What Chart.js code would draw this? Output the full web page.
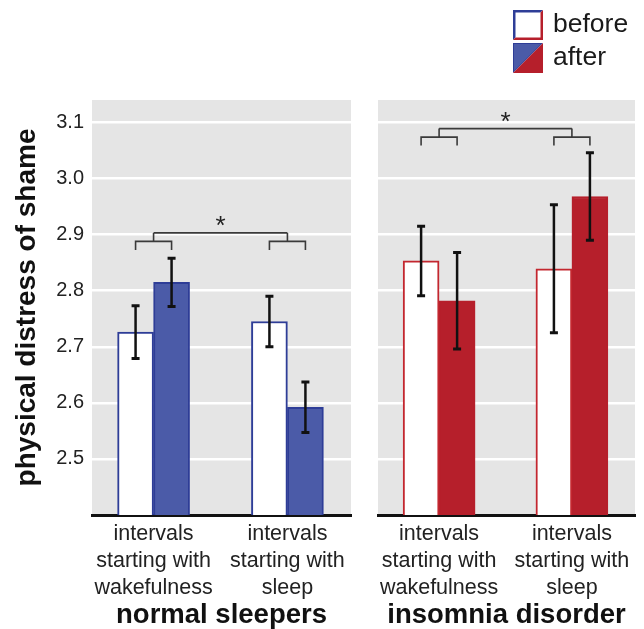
<!DOCTYPE html>
<html><head><meta charset="utf-8">
<script src="https://cdn.jsdelivr.net/npm/chart.js@4.4.0/dist/chart.umd.min.js"></script>
<style>
html,body{margin:0;padding:0;background:#fff;width:644px;height:629px;overflow:hidden;font-family:"Liberation Sans",Arial,sans-serif;}
#c1{position:absolute;left:0;top:0;}
#c2{position:absolute;left:360px;top:0;}
#legend{position:absolute;left:513px;top:8.5px;}
.row{display:flex;align-items:center;height:33px;}
.row canvas{width:30px;height:30px;display:block;}
.row span{font-size:26.5px;margin-left:10px;color:#1a1a1a;line-height:30px;position:relative;top:-2px;}
</style></head>
<body>
<canvas id="c1" width="360" height="629"></canvas>
<canvas id="c2" width="284" height="629"></canvas>
<div id="legend">
  <div class="row"><canvas id="sw1" width="30" height="30"></canvas><span>before</span></div>
  <div class="row"><canvas id="sw2" width="30" height="30"></canvas><span>after</span></div>
</div>
<script>
// ---- data ----
const categories = [["intervals", "starting with", "wakefulness"], ["intervals", "starting with", "sleep"]];
const groupNames = ["normal sleepers", "insomnia disorder"];
const seriesNames = ["before", "after"];
const yTicks = [2.5, 2.6, 2.7, 2.8, 2.9, 3.0, 3.1];
const yMin = 2.4, yMax = 3.14;

const normalBefore = [2.726, 2.745];
const normalAfter = [2.815, 2.592];
const normalBeforeErr = [0.047, 0.045];
const normalAfterErr = [0.043, 0.045];

const insomniaBefore = [2.853, 2.839];
const insomniaAfter = [2.782, 2.968];
const insomniaBeforeErr = [0.062, 0.114];
const insomniaAfterErr = [0.086, 0.078];

const bracketLevels = [2.903, 3.089];   // significance bracket height (data units)
const sigMarks = ["*", "*"];

// ---- style ----
const FONT = '"Liberation Sans", Arial, Helvetica, sans-serif';
const BLUE = '#4b5ba8', BLUE_DARK = '#2e3d97';
const RED = '#b61f2b', RED_LINE = '#c3272f';

const bgPlugin = {
  id: 'panelBg',
  beforeDraw(chart) {
    const {ctx, chartArea: a} = chart;
    ctx.save();
    ctx.fillStyle = '#e5e5e5';
    ctx.fillRect(a.left, a.top, a.right - a.left, a.bottom - a.top);
    ctx.restore();
  }
};

const errPlugin = {
  id: 'errBars',
  afterDatasetsDraw(chart) {
    const {ctx} = chart;
    const ys = chart.scales.y;
    ctx.save();
    ctx.strokeStyle = '#111';
    chart.data.datasets.forEach((ds, di) => {
      const meta = chart.getDatasetMeta(di);
      meta.data.forEach((el, i) => {
        const v = ds.data[i].y, e = ds.errors[i];
        const yt = ys.getPixelForValue(v + e), yb = ys.getPixelForValue(v - e);
        ctx.lineWidth = 2.5;
        ctx.beginPath();
        ctx.moveTo(el.x, yt); ctx.lineTo(el.x, yb);
        ctx.stroke();
        ctx.lineWidth = 3;
        ctx.beginPath();
        ctx.moveTo(el.x - 4, yt); ctx.lineTo(el.x + 4, yt);
        ctx.moveTo(el.x - 4, yb); ctx.lineTo(el.x + 4, yb);
        ctx.stroke();
      });
    });
    ctx.restore();
  }
};

const bracketPlugin = {
  id: 'brackets',
  afterDatasetsDraw(chart, args, opts) {
    const {ctx} = chart;
    const ys = chart.scales.y;
    const m0 = chart.getDatasetMeta(0).data, m1 = chart.getDatasetMeta(1).data;
    const yTop = ys.getPixelForValue(opts.level);
    const ySub = yTop + 8.5, yEnd = ySub + 8.5;
    const centers = [];
    ctx.save();
    ctx.strokeStyle = '#3a3a3a';
    ctx.lineWidth = 1.6;
    for (let i = 0; i < m0.length; i++) {
      const a = m0[i].x, b = m1[i].x, c = (a + b) / 2;
      centers.push(c);
      ctx.beginPath();
      ctx.moveTo(a, yEnd); ctx.lineTo(a, ySub); ctx.lineTo(b, ySub); ctx.lineTo(b, yEnd);
      ctx.moveTo(c, ySub); ctx.lineTo(c, yTop);
      ctx.stroke();
    }
    ctx.beginPath();
    ctx.moveTo(centers[0], yTop); ctx.lineTo(centers[centers.length - 1], yTop);
    ctx.stroke();
    ctx.fillStyle = '#222';
    ctx.font = '26px ' + FONT;
    ctx.textAlign = 'center';
    ctx.textBaseline = 'middle';
    ctx.fillText(opts.mark, (centers[0] + centers[centers.length - 1]) / 2, yTop - 6);
    ctx.restore();
  }
};

function makeChart(id, before, after, beforeErr, afterErr, lineColor, fillColor, fillBorder, title, level, mark, left) {
  const yScale = {
    min: yMin, max: yMax,
    afterBuildTicks: s => { s.ticks = yTicks.map(v => ({value: v})); },
    afterFit: s => { s.width = left ? 92 : 0; },
    grid: {color: '#ffffff', lineWidth: 2.5, drawTicks: false},
    border: {display: false},
    ticks: {display: left, padding: 8, color: '#222', font: {size: 20, family: FONT}, callback: v => v.toFixed(1)},
    title: {display: left, text: 'physical distress of shame', color: '#111',
            font: {size: 28, weight: 'bold', family: FONT}, padding: {top: 10, bottom: 0}}
  };
  return new Chart(document.getElementById(id), {
    type: 'bar',
    data: {
      datasets: [
        {label: seriesNames[0], data: before.map((v, i) => ({x: i, y: v})), errors: beforeErr,
         backgroundColor: '#ffffff', borderColor: lineColor, borderWidth: 2, borderSkipped: 'bottom'},
        {label: seriesNames[1], data: after.map((v, i) => ({x: i, y: v})), errors: afterErr,
         backgroundColor: fillColor, borderColor: fillBorder, borderWidth: 2, borderSkipped: 'bottom'}
      ]
    },
    options: {
      responsive: false, animation: false, devicePixelRatio: 1,
      layout: {padding: {left: left ? 0 : 18, right: 9, top: 100, bottom: 0}},
      datasets: {bar: {barThickness: 36, grouped: true}},
      scales: {
        x: {
          type: 'linear', offset: false, min: -0.46, max: 1.475,
          afterBuildTicks: s => { s.ticks = categories.map((c, i) => ({value: i})); },
          afterFit: s => { s.height = 114; },
          grid: {display: false},
          border: {display: true, color: '#111', width: 3},
          ticks: {autoSkip: false, maxRotation: 0, padding: -2, color: '#222',
                  font: {size: 21.5, family: FONT, lineHeight: 1.25},
                  callback: v => categories[Math.round(v)]},
          title: {display: true, text: title, color: '#111',
                  font: {size: 27.5, weight: 'bold', family: FONT}, padding: {top: 0, bottom: -3}}
        },
        y: yScale
      },
      plugins: {legend: {display: false}, tooltip: {enabled: false},
                brackets: {level: level, mark: mark}}
    },
    plugins: [bgPlugin, errPlugin, bracketPlugin]
  });
}

makeChart('c1', normalBefore, normalAfter, normalBeforeErr, normalAfterErr, BLUE_DARK, BLUE, BLUE_DARK, groupNames[0], bracketLevels[0], sigMarks[0], true);
makeChart('c2', insomniaBefore, insomniaAfter, insomniaBeforeErr, insomniaAfterErr, RED_LINE, RED, RED, groupNames[1], bracketLevels[1], sigMarks[1], false);

// legend swatches (diagonal split blue / red)
function swatch(id, hollow) {
  const c = document.getElementById(id).getContext('2d');
  c.fillStyle = BLUE_DARK; c.beginPath(); c.moveTo(0, 0); c.lineTo(30, 0); c.lineTo(0, 30); c.closePath(); c.fill();
  c.fillStyle = RED; c.beginPath(); c.moveTo(30, 0); c.lineTo(30, 30); c.lineTo(0, 30); c.closePath(); c.fill();
  if (hollow) { c.fillStyle = '#fff'; c.fillRect(2.5, 2.5, 25, 25); }
  else {
    c.fillStyle = BLUE; c.beginPath(); c.moveTo(1, 1); c.lineTo(28, 1); c.lineTo(1, 28); c.closePath(); c.fill();
  }
}
swatch('sw1', true);
swatch('sw2', false);
</script>
</body></html>
